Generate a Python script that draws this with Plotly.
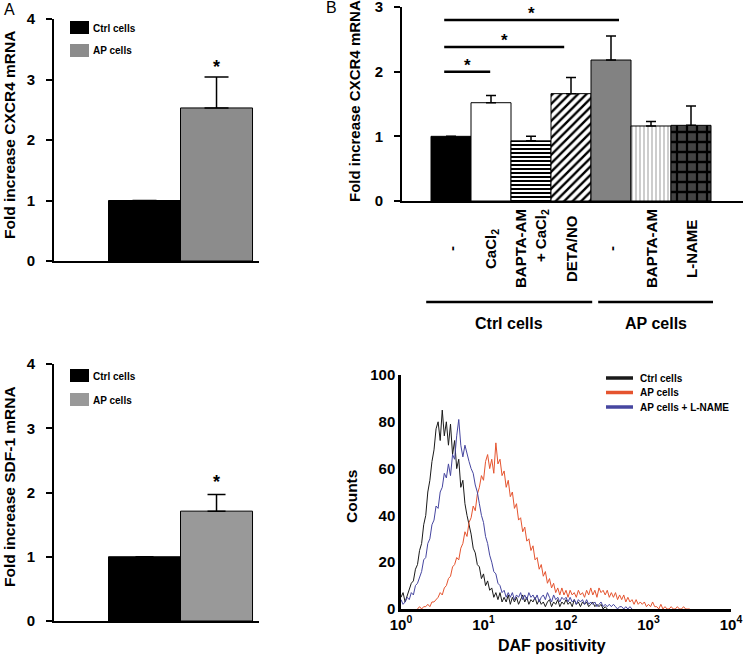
import plotly.graph_objects as go

# ---------------- data ----------------
# Panel A: CXCR4 mRNA
a_groups = ["Ctrl cells", "AP cells"]
a_values = [1.0, 2.53]
a_err = [0.0, 0.51]

# Panel C: SDF-1 mRNA
c_groups = ["Ctrl cells", "AP cells"]
c_values = [1.0, 1.71]
c_err = [0.0, 0.26]

# Panel B: CXCR4 mRNA by treatment
b_labels = ["-", "CaCl<sub>2</sub>", "BAPTA-AM<br>+ CaCl<sub>2</sub>", "DETA/NO",
            "-", "BAPTA-AM", "L-NAME"]
b_values = [1.0, 1.52, 0.93, 1.66, 2.18, 1.16, 1.17]
b_err = [0.0, 0.11, 0.07, 0.25, 0.37, 0.07, 0.30]
b_group_names = ["Ctrl cells", "AP cells"]
b_group_first = [0, 4]
b_group_last = [3, 6]
sig_from = [0, 0, 0]
sig_to = [1, 3, 4]
sig_level = [2.0, 2.38, 2.80]

# Panel D: DAF histogram (log10 channel positions and counts)
daf_log = [0.000, 0.025, 0.050, 0.075, 0.100, 0.125, 0.150, 0.175, 0.200, 0.225,
           0.250, 0.275, 0.300, 0.325, 0.350, 0.375, 0.400, 0.425, 0.450, 0.475,
           0.500, 0.525, 0.550, 0.575, 0.600, 0.625, 0.650, 0.675, 0.700, 0.725,
           0.750, 0.775, 0.800, 0.825, 0.850, 0.875, 0.900, 0.925, 0.950, 0.975,
           1.000, 1.025, 1.050, 1.075, 1.100, 1.125, 1.150, 1.175, 1.200, 1.225,
           1.250, 1.275, 1.300, 1.325, 1.350, 1.375, 1.400, 1.425, 1.450, 1.475,
           1.500, 1.525, 1.550, 1.575, 1.600, 1.625, 1.650, 1.675, 1.700, 1.725,
           1.750, 1.775, 1.800, 1.825, 1.850, 1.875, 1.900, 1.925, 1.950, 1.975,
           2.000, 2.025, 2.050, 2.075, 2.100, 2.125, 2.150, 2.175, 2.200, 2.225,
           2.250, 2.275, 2.300, 2.325, 2.350, 2.375, 2.400, 2.425, 2.450, 2.475,
           2.500, 2.525, 2.550, 2.575, 2.600, 2.625, 2.650, 2.675, 2.700, 2.725,
           2.750, 2.775, 2.800, 2.825, 2.850, 2.875, 2.900, 2.925, 2.950, 2.975,
           3.000, 3.025, 3.050, 3.075, 3.100, 3.125, 3.150, 3.175, 3.200, 3.225,
           3.250, 3.275, 3.300, 3.325, 3.350, 3.375, 3.400, 3.425, 3.450, 3.475,
           3.500]
ctrl_start = 0
ctrl_counts = [5, 7, 3, 6, 8, 11, 12, 17, 19, 25,
               28, 36, 40, 50, 55, 63, 68, 77, 80, 72,
               85, 74, 80, 70, 79, 66, 72, 60, 64, 52,
               55, 45, 40, 36, 32, 26, 24, 19, 18, 13,
               15, 10, 12, 8, 9, 5, 7, 4, 7, 3,
               5, 3, 6, 2, 5, 3, 5, 2, 4, 6,
               3, 5, 2, 4, 3, 5, 2, 4, 2, 3,
               1, 3, 4, 1, 3, 2, 4, 1, 3, 2,
               4, 2, 3, 1, 4, 2, 3, 1, 3, 2,
               3, 1, 2, 3, 1, 2, 1, 2, 0, 1,
               0]
ap_start = 8
ap_counts = [0, 1, 0, 1, 1, 2, 1, 3, 3, 4,
             5, 7, 6, 9, 10, 13, 14, 18, 19, 22,
             21, 26, 28, 33, 31, 37, 39, 44, 42, 49,
             52, 57, 55, 63, 66, 60, 64, 58, 71, 62,
             64, 57, 59, 52, 55, 48, 50, 43, 45, 38,
             39, 33, 35, 29, 30, 25, 27, 21, 22, 17,
             19, 14, 16, 11, 13, 9, 11, 7, 9, 6,
             9, 6, 8, 5, 8, 6, 7, 5, 8, 6,
             7, 5, 8, 6, 9, 6, 8, 5, 9, 7,
             8, 6, 8, 5, 7, 5, 7, 4, 6, 4,
             6, 3, 5, 3, 4, 2, 4, 2, 3, 2,
             3, 1, 2, 1, 3, 1, 1, 0, 2, 0,
             1, 0, 0, 1, 0, 0, 1, 0, 0, 1,
             0, 0, 0]
lname_start = 0
lname_counts = [4, 2, 3, 5, 4, 7, 6, 10, 11, 14,
                16, 21, 22, 28, 30, 36, 38, 44, 43, 50,
                52, 58, 56, 62, 57, 66, 64, 74, 81, 70,
                65, 70, 66, 63, 60, 58, 53, 50, 45, 40,
                37, 31, 28, 23, 20, 16, 15, 11, 10, 7,
                8, 5, 7, 5, 7, 4, 6, 5, 7, 4,
                6, 4, 7, 5, 6, 4, 6, 3, 5, 6,
                4, 7, 5, 3, 6, 4, 5, 3, 5, 4,
                5, 3, 5, 3, 4, 2, 4, 3, 4, 2,
                4, 2, 3, 2, 3, 1, 2, 3, 1, 2,
                1, 2, 1, 2, 1, 0, 1, 1, 0, 1,
                0, 1, 0]
daf_ticks = [1, 10, 100, 1000, 10000]
daf_ticktext = ["10<sup>0</sup>", "10<sup>1</sup>", "10<sup>2</sup>", "10<sup>3</sup>", "10<sup>4</sup>"]

# ---------------- layout helpers ----------------
W, H = 743, 654
FONT = "Liberation Sans, Arial, sans-serif"


def px(x):
    return x / W


def py(y):
    return 1 - y / H


fig = go.Figure()

# Panel A bars
fig.add_trace(go.Bar(
    x=[0, 1], y=a_values, width=1.0,
    marker=dict(color=["#000000", "#8c8c8c"], line=dict(color="black", width=1)),
    error_y=dict(type="data", symmetric=False, array=a_err, arrayminus=[0, 0],
                 color="black", thickness=1.5, width=12),
    xaxis="x", yaxis="y", showlegend=False))

# Panel C bars
fig.add_trace(go.Bar(
    x=[0, 1], y=c_values, width=1.0,
    marker=dict(color=["#000000", "#999999"], line=dict(color="black", width=1)),
    error_y=dict(type="data", symmetric=False, array=c_err, arrayminus=[0, 0],
                 color="black", thickness=1.5, width=9),
    xaxis="x3", yaxis="y3", showlegend=False))

# Panel B bars: one trace per bar so each gets its own fill pattern
b_bg = ["#000000", "#ffffff", "#ffffff", "#ffffff", "#828282", "#ffffff", "#444444"]
b_shape = ["", "", "-", "/", "", "|", "+"]
b_fg = ["#000000", "#000000", "#000000", "#000000", "#000000", "#c8c8c8", "#000000"]
b_psize = [6, 6, 4, 6, 6, 4, 10]
b_solid = [0.5, 0.5, 0.5, 0.4, 0.5, 0.45, 0.4]
for i, (val, err) in enumerate(zip(b_values, b_err)):
    pat = dict(shape=b_shape[i], fgcolor=b_fg[i], bgcolor=b_bg[i], size=b_psize[i],
               solidity=b_solid[i], fgopacity=1, fillmode="overlay")
    fig.add_trace(go.Bar(
        x=[i], y=[val], width=1.0,
        marker=dict(color=b_bg[i], line=dict(color="black", width=1), pattern=pat),
        error_y=dict(type="data", symmetric=False, array=[err], arrayminus=[0],
                     color="black", thickness=1.5, width=5),
        xaxis="x2", yaxis="y2", showlegend=False))

# significance bars in B
sig_end_offset = [-0.02, -0.17, 0.2]
for f, t, lv, off in zip(sig_from, sig_to, sig_level, sig_end_offset):
    x0, x1 = f - 0.17, t + off
    fig.add_trace(go.Scatter(x=[x0, x1], y=[lv, lv], mode="lines",
                             line=dict(color="black", width=2.5),
                             xaxis="x2", yaxis="y2", showlegend=False, hoverinfo="skip"))
    fig.add_annotation(x=(x0 + x1) / 2, y=lv, xref="x2", yref="y2", text="*",
                       showarrow=False, yanchor="bottom", yshift=-5,
                       font=dict(family=FONT, size=17, color="black", weight="bold"))

# Panel D histogram lines
hist_series = [
    ("Ctrl cells", ctrl_start, ctrl_counts, "#1a1a1a"),
    ("AP cells", ap_start, ap_counts, "#e5542f"),
    ("AP cells + L-NAME", lname_start, lname_counts, "#4646a0"),
]
for name, start, counts, col in hist_series:
    xs = [10 ** v for v in daf_log[start:start + len(counts)]]
    fig.add_trace(go.Scatter(x=xs, y=counts, mode="lines", name=name,
                             line=dict(color=col, width=1),
                             xaxis="x4", yaxis="y4", showlegend=False))

# ---------------- axes ----------------
tickfont = dict(family=FONT, size=15, color="black", weight="bold")
common_y = dict(showline=True, linecolor="black", linewidth=2, showgrid=False, zeroline=False,
                ticks="outside", ticklen=6, tickwidth=2, tickcolor="black", tickfont=tickfont,
                automargin=False, ticklabeloverflow="allow")
common_x = dict(showline=True, linecolor="black", linewidth=2, showgrid=False, zeroline=False,
                showticklabels=False, ticks="", automargin=False)

fig.update_layout(
    width=W, height=H, margin=dict(l=0, r=0, t=0, b=0, autoexpand=False),
    paper_bgcolor="white", plot_bgcolor="white", barmode="overlay",
    font=dict(family=FONT, color="black"),
    xaxis=dict(domain=[px(54), px(259)], range=[-1.257, 1.59], anchor="y", **common_x),
    yaxis=dict(domain=[py(261), py(19)], range=[0, 4], tickvals=[0, 1, 2, 3, 4], anchor="x",
               ticklabelstandoff=8, **common_y),
    xaxis2=dict(domain=[px(402), 1.0], range=[-1.225, 7.3], anchor="y2", **common_x),
    yaxis2=dict(domain=[py(201), py(7)], range=[0, 3], tickvals=[0, 1, 2, 3], anchor="x2",
                ticklabelstandoff=8, **common_y),
    xaxis3=dict(domain=[px(54), px(259)], range=[-1.257, 1.59], anchor="y3", **common_x),
    yaxis3=dict(domain=[py(621), py(364)], range=[0, 4], tickvals=[0, 1, 2, 3, 4], anchor="x3",
                ticklabelstandoff=8, **common_y),
    xaxis4=dict(domain=[px(401), px(731)], type="log", range=[0, 4], anchor="y4",
                showline=True, linecolor="black", linewidth=2.5, showgrid=False, zeroline=False,
                tickvals=daf_ticks, ticktext=daf_ticktext, ticks="", tickfont=tickfont,
                automargin=False, ticklabeloverflow="allow"),
    yaxis4=dict(domain=[py(609), py(375)], range=[0, 100], tickvals=[0, 20, 40, 60, 80, 100],
                anchor="x4", showline=True, linecolor="black", linewidth=2.5, showgrid=False,
                zeroline=False, ticks="", tickfont=tickfont, automargin=False,
                ticklabeloverflow="allow"),
)

# ---------------- annotations / shapes ----------------
def ann(x, y, text, size, angle=0, bold=True, xanchor="center", yanchor="middle", align="center"):
    fig.add_annotation(x=px(x), y=py(y), xref="paper", yref="paper", text=text, showarrow=False,
                       textangle=angle, xanchor=xanchor, yanchor=yanchor, align=align,
                       font=dict(family=FONT, size=size, color="black",
                                 weight="bold" if bold else "normal"))

# panel letters
ann(9, 10, "A", 16, bold=False)
ann(331, 7, "B", 16, bold=False)

# axis titles
ann(9, 135, "Fold increase CXCR4 mRNA", 15.5, angle=-90)
ann(354, 101, "Fold increase CXCR4 mRNA", 15, angle=-90)
ann(9, 487, "Fold increase SDF-1 mRNA", 15.5, angle=-90)
ann(351, 497, "Counts", 15.5, angle=-90)
ann(552, 645, "DAF positivity", 16)

# asterisks A and C
fig.add_annotation(x=1, y=a_values[1] + a_err[1], xref="x", yref="y", text="*", showarrow=False,
                   yanchor="bottom", yshift=-2,
                   font=dict(family=FONT, size=18, color="black", weight="bold"))
fig.add_annotation(x=1, y=c_values[1] + c_err[1], xref="x3", yref="y3", text="*", showarrow=False,
                   yanchor="bottom", yshift=0,
                   font=dict(family=FONT, size=18, color="black", weight="bold"))

# legends A and C
leg_colors_a = ["#000000", "#8c8c8c"]
leg_colors_c = ["#000000", "#999999"]
for i, name in enumerate(a_groups):
    y0 = 21 + i * 23
    fig.add_shape(type="rect", xref="paper", yref="paper", x0=px(70), x1=px(89), y0=py(y0 + 13), y1=py(y0),
                  fillcolor=leg_colors_a[i], line=dict(width=0))
    ann(91, y0 + 7, name, 10, xanchor="left")
for i, name in enumerate(c_groups):
    y0 = 369 + i * 24
    fig.add_shape(type="rect", xref="paper", yref="paper", x0=px(70), x1=px(89), y0=py(y0 + 13), y1=py(y0),
                  fillcolor=leg_colors_c[i], line=dict(width=0))
    ann(91, y0 + 7, name, 10, xanchor="left")

# legend D
for i, (name, start, counts, col) in enumerate(hist_series):
    yy = 378 + i * 14.5
    fig.add_shape(type="line", xref="paper", yref="paper", x0=px(606), x1=px(633), y0=py(yy), y1=py(yy),
                  line=dict(color=col, width=3.5))
    ann(638, yy, name, 10, xanchor="left")

# B category labels
for i, lab in enumerate(b_labels):
    fig.add_annotation(x=i, y=py(249), xref="x2", yref="paper", text=lab, showarrow=False,
                       textangle=-90, xanchor="center", yanchor="middle", align="right",
                       font=dict(family=FONT, size=15, color="black", weight="bold"))

# B group lines and labels
grp_off_left = [-0.62, -0.32]
grp_off_right = [0.53, 0.55]
for name, f, l, ol, orr in zip(b_group_names, b_group_first, b_group_last, grp_off_left, grp_off_right):
    fig.add_shape(type="line", xref="x2", yref="paper", x0=f + ol, x1=l + orr, y0=py(302), y1=py(302),
                  line=dict(color="black", width=2.5))
    fig.add_annotation(x=(f + ol + l + orr) / 2, y=py(323), xref="x2", yref="paper", text=name,
                       showarrow=False, font=dict(family=FONT, size=16, color="black", weight="bold"))

fig.write_html("out.html", config={"displayModeBar": False},
               post_script="document.body.style.margin='0';document.body.style.overflow='hidden';")
